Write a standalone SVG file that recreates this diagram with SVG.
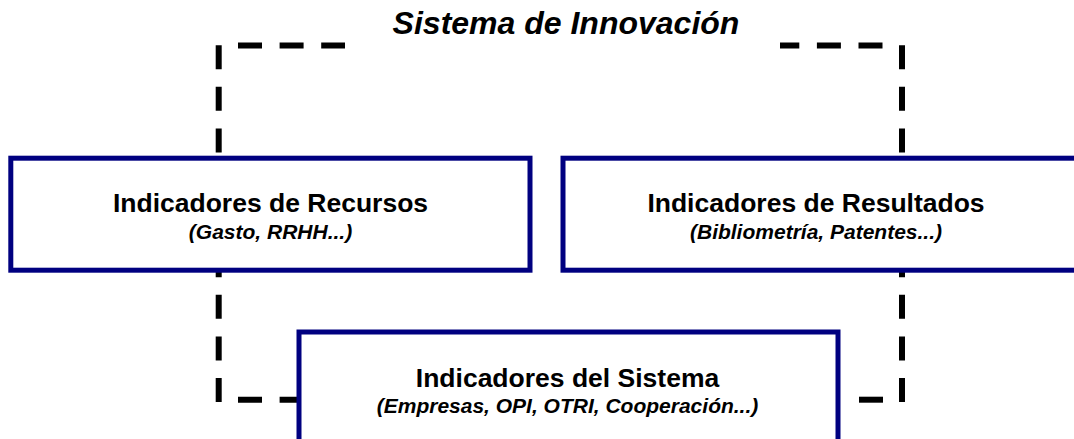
<svg xmlns="http://www.w3.org/2000/svg" width="1074" height="439" viewBox="0 0 1074 439">
  <style>
    .box { fill: #ffffff; stroke: #000080; stroke-width: 5; }
    .dash { fill: none; stroke: #000000; stroke-width: 6; stroke-dasharray: 24 17.6; }
    .t { font-family: "Liberation Sans", Arial, sans-serif; font-weight: bold; fill: #000000; text-anchor: middle; }
    .main { font-size: 26.5px; }
    .sub { font-size: 21px; font-style: italic; }
    .title { font-size: 32px; font-style: italic; }
  </style>
  <rect width="1074" height="439" fill="#ffffff"/>
  <g id="connectors">
    <line class="dash" x1="238" y1="45.5" x2="345" y2="45.5"/>
    <line class="dash" x1="882.5" y1="45.5" x2="780" y2="45.5"/>
    <line class="dash" x1="218.7" y1="402" x2="218.7" y2="42"/>
    <line class="dash" x1="902" y1="402" x2="902" y2="42"/>
    <line class="dash" x1="238" y1="399.7" x2="299" y2="399.7"/>
    <line class="dash" x1="883" y1="399.7" x2="845" y2="399.7"/>
  </g>
  <g id="title">
    <text class="t title" x="566" y="34">Sistema de Innovación</text>
  </g>
  <g id="node-recursos">
    <rect class="box" x="10.8" y="158.2" width="519.2" height="112"/>
    <text class="t main" x="270.5" y="212.3">Indicadores de Recursos</text>
    <text class="t sub" x="270.5" y="239">(Gasto, RRHH...)</text>
  </g>
  <g id="node-resultados">
    <rect class="box" x="563" y="158.2" width="520" height="112"/>
    <text class="t main" x="816" y="212.3">Indicadores de Resultados</text>
    <text class="t sub" x="816" y="239">(Bibliometría, Patentes...)</text>
  </g>
  <g id="node-sistema">
    <rect class="box" x="299" y="332" width="539" height="150"/>
    <text class="t main" x="567.5" y="386.7">Indicadores del Sistema</text>
    <text class="t sub" x="567.5" y="413.3">(Empresas, OPI, OTRI, Cooperación...)</text>
  </g>
</svg>
